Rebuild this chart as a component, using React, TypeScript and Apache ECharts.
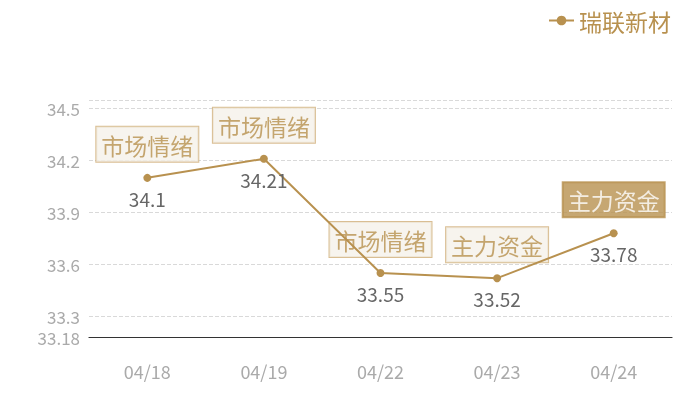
import React, { useEffect, useRef } from "react";
import * as echarts from "echarts";

const categories = ["04/18", "04/19", "04/22", "04/23", "04/24"];
const prices = [34.1, 34.21, 33.55, 33.52, 33.78];
const tags = ["市场情绪", "市场情绪", "市场情绪", "主力资金", "主力资金"];
const highlighted = [false, false, false, false, true];
const seriesName = "瑞联新材";

const GOLD = "#b8914f";
const FONT = "'Noto Sans CJK SC', 'Noto Sans', sans-serif";

export default function App() {
  const ref = useRef<HTMLDivElement>(null);
  useEffect(() => {
    if (!ref.current) return;
    const chart = echarts.init(ref.current, null, { renderer: "svg" });
    chart.setOption({
      animation: false,
      textStyle: { fontFamily: FONT },
      legend: {
        data: [seriesName],
        right: 24,
        top: 4,
        itemWidth: 25,
        itemHeight: 12,
        itemGap: 10,
        textStyle: { color: GOLD, fontSize: 23, fontFamily: FONT },
      },
      grid: { left: 89, right: 28, top: 100, bottom: 63 },
      xAxis: {
        type: "category",
        data: categories,
        boundaryGap: true,
        axisTick: { show: false },
        axisLine: { lineStyle: { color: "#333", width: 1.2 } },
        axisLabel: { color: "#aaa", fontSize: 18, margin: 25, fontFamily: FONT },
      },
      yAxis: {
        type: "value",
        min: (v: { min: number }) => Math.round(v.min * 0.99 * 100) / 100,
        max: (v: { max: number }) => Math.round(v.max * 1.01 * 100) / 100,
        axisLine: { show: false },
        axisTick: { show: false },
        axisLabel: {
          color: "#aaa",
          fontSize: 17,
          lineHeight: 18,
          margin: 9,
          showMaxLabel: false,
          fontFamily: FONT,
        },
        splitLine: { lineStyle: { color: "#d9d9d9", type: "dashed" } },
      },
      series: [
        {
          name: seriesName,
          type: "line",
          data: prices,
          symbol: "circle",
          symbolSize: 8,
          itemStyle: { color: GOLD },
          lineStyle: { color: GOLD, width: 2 },
          label: {
            show: true,
            position: "bottom",
            distance: 7,
            color: "#666",
            fontSize: 19,
            fontFamily: FONT,
          },
        },
        {
          name: "tags",
          type: "scatter",
          data: prices.map((v, i) => ({
            value: v,
            label: highlighted[i]
              ? { backgroundColor: GOLD, borderColor: GOLD, color: "#fff" }
              : { backgroundColor: "#f5f1ea", borderColor: "#cfae78", color: GOLD },
          })),
          symbolSize: 0,
          silent: true,
          label: {
            show: true,
            position: "top",
            distance: 16,
            fontSize: 23,
            lineHeight: 26,
            fontFamily: FONT,
            borderWidth: 1,
            padding: [5, 5, 4, 5],
            formatter: (p: { dataIndex: number }) => tags[p.dataIndex],
          },
        },
      ],
    });
    return () => chart.dispose();
  }, []);
  return (
    <div
      ref={ref}
      style={{ position: "fixed", left: 0, top: 0, width: 700, height: 400 }}
    />
  );
}
